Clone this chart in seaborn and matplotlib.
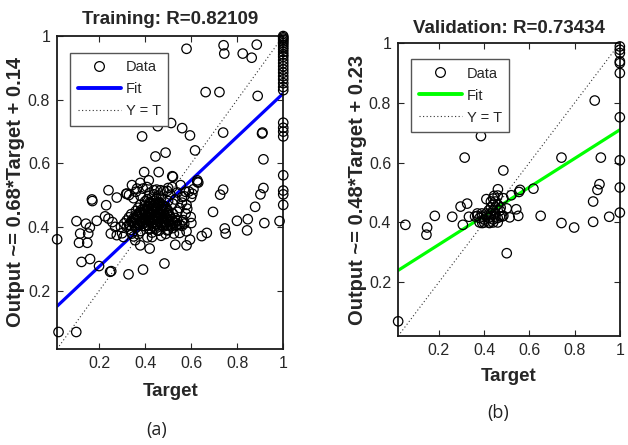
import matplotlib
matplotlib.use("Agg")
import matplotlib.pyplot as plt
import numpy as np
import pandas as pd
import seaborn as sns
from matplotlib.lines import Line2D

# ---------------- data ----------------
# Training: scattered points
train_x_out = [0.580, 0.741, 0.744, 0.824, 0.863, 0.885, 0.663, 0.723, 0.889,
               0.455, 0.513, 0.561, 0.595, 0.387, 0.739, 0.617, 0.489, 0.445,
               0.396, 0.459, 0.521, 0.416, 0.627, 0.631, 0.241, 0.169, 0.171,
               0.231, 0.277, 0.321, 0.102, 0.143, 0.160, 0.190, 0.118, 0.153,
               0.113, 0.149, 0.124, 0.161, 0.200, 0.248, 0.253, 0.328, 0.391,
               0.484, 0.531, 0.420, 0.580, 0.595, 0.646, 0.668, 0.695, 0.726,
               0.739, 0.746, 0.750, 0.799, 0.846, 0.843, 0.878, 0.901, 0.914,
               0.914, 0.908, 0.910, 0.918, 0.984, 0.018, 0.024, 0.101]
train_y_out = [0.960, 0.971, 0.945, 0.945, 0.932, 0.973, 0.824, 0.824, 0.812,
               0.717, 0.727, 0.711, 0.688, 0.685, 0.697, 0.641, 0.634, 0.622,
               0.573, 0.573, 0.558, 0.547, 0.547, 0.540, 0.516, 0.487, 0.482,
               0.469, 0.493, 0.505, 0.419, 0.411, 0.399, 0.420, 0.380, 0.380,
               0.351, 0.351, 0.291, 0.300, 0.278, 0.260, 0.262, 0.252, 0.267,
               0.286, 0.345, 0.333, 0.343, 0.361, 0.372, 0.382, 0.448, 0.502,
               0.518, 0.396, 0.380, 0.420, 0.425, 0.390, 0.464, 0.503, 0.523,
               0.613, 0.694, 0.697, 0.413, 0.419, 0.362, 0.071, 0.071]
# Training: column of points at target = 1
train_y_one = [1.000, 0.996, 0.992, 0.988, 0.983, 0.978, 0.972, 0.965, 0.958,
               0.950, 0.942, 0.935, 0.925, 0.915, 0.905, 0.895, 0.885, 0.874,
               0.864, 0.852, 0.840, 0.830, 0.728, 0.712, 0.700, 0.685, 0.563,
               0.515, 0.503, 0.470]
# Training: points around the main cluster
train_x_mid = [0.226, 0.241, 0.258, 0.270, 0.251, 0.277, 0.295, 0.306, 0.379,
               0.357, 0.343, 0.518, 0.554, 0.576, 0.605, 0.627, 0.561, 0.583,
               0.576, 0.598, 0.601, 0.566, 0.540, 0.525, 0.496, 0.452, 0.430,
               0.343, 0.365, 0.379, 0.408, 0.438, 0.467, 0.496, 0.518, 0.318]
train_y_mid = [0.434, 0.427, 0.416, 0.401, 0.380, 0.375, 0.401, 0.369, 0.343,
               0.359, 0.380, 0.560, 0.532, 0.511, 0.505, 0.542, 0.495, 0.458,
               0.443, 0.432, 0.413, 0.422, 0.406, 0.380, 0.390, 0.390, 0.369,
               0.532, 0.521, 0.539, 0.526, 0.516, 0.516, 0.514, 0.526, 0.505]
# Training: dense core
train_x_core = [0.31, 0.33, 0.35, 0.37, 0.39, 0.41, 0.43, 0.45, 0.47, 0.49, 0.51, 0.53, 0.55, 0.57,
                0.32, 0.34, 0.36, 0.38, 0.40, 0.42, 0.44, 0.46, 0.48, 0.50, 0.52, 0.54, 0.56,
                0.33, 0.35, 0.37, 0.39, 0.41, 0.43, 0.45, 0.47, 0.49, 0.51, 0.53,
                0.34, 0.36, 0.38, 0.40, 0.42, 0.44, 0.46, 0.48, 0.50, 0.52,
                0.36, 0.38, 0.40, 0.42, 0.44, 0.46, 0.48, 0.50, 0.54,
                0.37, 0.39, 0.41, 0.43, 0.45, 0.47, 0.49, 0.55,
                0.38, 0.40, 0.42, 0.44, 0.46, 0.48, 0.52, 0.58,
                0.40, 0.42, 0.44, 0.46, 0.50, 0.56,
                0.35, 0.41, 0.43, 0.45, 0.47, 0.53, 0.60,
                0.33, 0.38, 0.44, 0.46, 0.51, 0.57,
                0.36, 0.42, 0.48, 0.54, 0.59,
                0.39, 0.45, 0.50, 0.61,
                0.32, 0.36, 0.40, 0.44, 0.48, 0.52, 0.56,
                0.34, 0.38, 0.42, 0.46, 0.50, 0.58,
                0.30, 0.37, 0.43, 0.49, 0.55,
                0.35, 0.41, 0.47,
                # extra density in the centre of the blob
                0.345, 0.365, 0.385, 0.405, 0.425, 0.445, 0.465, 0.485, 0.505,
                0.355, 0.375, 0.395, 0.415, 0.435, 0.455, 0.475, 0.495, 0.515,
                0.365, 0.385, 0.405, 0.425, 0.445, 0.465, 0.485, 0.505,
                0.375, 0.395, 0.415, 0.435, 0.455, 0.475, 0.495,
                0.395, 0.415, 0.435, 0.455, 0.475, 0.495,
                0.415, 0.435, 0.455, 0.475,
                0.425, 0.445, 0.465,
                0.335, 0.355, 0.375, 0.395, 0.415, 0.435, 0.455, 0.475, 0.495, 0.515, 0.535]
train_y_core = [0.412, 0.408, 0.414, 0.409, 0.411, 0.406, 0.413, 0.410, 0.407, 0.412, 0.409, 0.414, 0.408, 0.411,
                0.421, 0.418, 0.423, 0.419, 0.422, 0.417, 0.424, 0.420, 0.418, 0.423, 0.419, 0.421, 0.417,
                0.431, 0.428, 0.433, 0.429, 0.432, 0.427, 0.434, 0.430, 0.428, 0.433, 0.429,
                0.441, 0.438, 0.443, 0.439, 0.442, 0.437, 0.444, 0.440, 0.438, 0.443,
                0.451, 0.448, 0.453, 0.449, 0.452, 0.447, 0.454, 0.450, 0.448,
                0.461, 0.458, 0.463, 0.459, 0.462, 0.457, 0.464, 0.460,
                0.471, 0.468, 0.473, 0.469, 0.472, 0.467, 0.474, 0.470,
                0.481, 0.478, 0.483, 0.479, 0.482, 0.477,
                0.491, 0.488, 0.493, 0.489, 0.492, 0.487, 0.494,
                0.501, 0.498, 0.503, 0.499, 0.502, 0.497,
                0.511, 0.508, 0.513, 0.509, 0.512,
                0.521, 0.518, 0.523, 0.519,
                0.401, 0.398, 0.403, 0.399, 0.402, 0.397, 0.404,
                0.391, 0.388, 0.393, 0.389, 0.392, 0.387,
                0.381, 0.378, 0.383, 0.379, 0.382,
                0.371, 0.368, 0.373,
                0.416, 0.414, 0.417, 0.415, 0.418, 0.416, 0.414, 0.417, 0.415,
                0.426, 0.427, 0.425, 0.428, 0.426, 0.427, 0.425, 0.428, 0.426,
                0.436, 0.437, 0.435, 0.438, 0.436, 0.437, 0.435, 0.438,
                0.446, 0.447, 0.445, 0.448, 0.446, 0.447, 0.445,
                0.456, 0.457, 0.455, 0.458, 0.456, 0.457,
                0.466, 0.467, 0.465, 0.468,
                0.476, 0.477, 0.475,
                0.405, 0.404, 0.406, 0.404, 0.405, 0.403, 0.406, 0.404, 0.405, 0.403, 0.406]

# Validation
val_x_out = [0.020, 0.052, 0.148, 0.145, 0.182, 0.259, 0.296, 0.325, 0.306, 0.333,
             0.314, 0.386, 0.485, 0.500, 0.410, 0.461, 0.444, 0.485, 0.473, 0.500,
             0.520, 0.542, 0.554, 0.559, 0.513, 0.551, 0.485, 0.392, 0.424, 0.618,
             0.650, 0.742, 0.742, 0.798, 0.889, 0.916, 0.910, 0.901, 0.882, 0.882,
             0.953]
val_y_out = [0.069, 0.392, 0.383, 0.359, 0.422, 0.419, 0.453, 0.463, 0.392, 0.419,
             0.617, 0.689, 0.574, 0.297, 0.478, 0.511, 0.489, 0.481, 0.450, 0.447,
             0.491, 0.444, 0.502, 0.509, 0.417, 0.422, 0.422, 0.398, 0.398, 0.513,
             0.422, 0.617, 0.398, 0.383, 0.808, 0.617, 0.528, 0.509, 0.470, 0.402,
             0.419]
val_y_one = [0.989, 0.978, 0.967, 0.939, 0.933, 0.900, 0.752, 0.608, 0.517, 0.433]
val_x_core = [0.36, 0.37, 0.38, 0.39, 0.40, 0.41, 0.42, 0.43, 0.44, 0.45, 0.46, 0.47,
              0.37, 0.39, 0.41, 0.43, 0.45, 0.42, 0.44, 0.43, 0.44, 0.45, 0.43, 0.45,
              0.46, 0.40, 0.42, 0.44, 0.46, 0.38, 0.48, 0.47, 0.44, 0.46]
val_y_core = [0.420, 0.422, 0.415, 0.420, 0.410, 0.420, 0.415, 0.420, 0.410, 0.420, 0.415, 0.420,
              0.430, 0.430, 0.430, 0.430, 0.430, 0.440, 0.440, 0.450, 0.460, 0.450, 0.470, 0.470,
              0.460, 0.400, 0.400, 0.400, 0.400, 0.400, 0.420, 0.440, 0.480, 0.490]

# Fit coefficients (from the axis labels)
train_slope, train_intercept = 0.68, 0.14
val_slope, val_intercept = 0.48, 0.23

titles = ["Training: R=0.82109", "Validation: R=0.73434"]
ylabels = ["Output ~= 0.68*Target + 0.14", "Output ~= 0.48*Target + 0.23"]
panel_tags = ["(a)", "(b)"]
ticks = [0.2, 0.4, 0.6, 0.8, 1]
tick_labels = ["0.2", "0.4", "0.6", "0.8", "1"]

# ---------------- build tables ----------------
train_df = pd.DataFrame({
    "Target": train_x_out + [1.0] * len(train_y_one) + train_x_mid + train_x_core,
    "Output": train_y_out + train_y_one + train_y_mid + train_y_core,
})
val_df = pd.DataFrame({
    "Target": val_x_out + [1.0] * len(val_y_one) + val_x_core,
    "Output": val_y_out + val_y_one + val_y_core,
})

# ---------------- style ----------------
sns.set_theme(style="white")
narrow = ["Liberation Sans Narrow", "Liberation Sans", "DejaVu Sans"]
plt.rcParams["font.family"] = narrow

fig = plt.figure(figsize=(6.28, 4.45), dpi=100)
axes_pos = [[0.091, 0.216, 0.360, 0.703], [0.634, 0.245, 0.353, 0.658]]
fit_colors = ["#0000ff", "#00ff00"]
dfs = [train_df, val_df]
fits = [(train_slope, train_intercept), (val_slope, val_intercept)]
legend_anchor = [(0.058, 0.946), (0.059, 0.945)]
title_pad = [9, 7]
tag_pos = [(157 / 628, 1 - 430 / 445), (498 / 628, 1 - 413 / 445)]

for i in range(2):
    ax = fig.add_axes(axes_pos[i])
    df = dfs[i]
    lo = min(df["Target"].min(), df["Output"].min())
    hi = max(df["Target"].max(), df["Output"].max())
    xs = np.array([lo, hi])
    slope, intercept = fits[i]

    # Y = T
    sns.lineplot(x=xs, y=xs, ax=ax, color="#333333", linestyle=(0, (1, 2.2)),
                 linewidth=0.8, zorder=1)
    # Fit
    sns.lineplot(x=xs, y=slope * xs + intercept, ax=ax, color=fit_colors[i],
                 linewidth=2.3, zorder=2)
    # Data
    sns.scatterplot(data=df, x="Target", y="Output", ax=ax, marker="o", s=46,
                    facecolor="none", edgecolor="black", linewidth=0.9,
                    zorder=3, legend=False, clip_on=False)

    ax.set_xlim(lo, hi)
    ax.set_ylim(lo, hi)
    ax.set_xticks(ticks)
    ax.set_xticklabels(tick_labels)
    ax.set_yticks(ticks)
    ax.set_yticklabels(tick_labels)
    ax.tick_params(direction="in", length=4, width=0.8, top=True, right=True,
                   labelsize=11.5, labelcolor="#262626", pad=5,
                   bottom=True, left=True)
    for sp in ax.spines.values():
        sp.set_color("#1a1a1a")
        sp.set_linewidth(1.3)

    ax.set_title(titles[i], fontsize=13.5, fontweight="bold", pad=title_pad[i])
    ax.set_xlabel("Target", fontsize=13.5, fontweight="bold")
    ax.xaxis.set_label_coords(0.5, -0.109)
    ax.set_ylabel(ylabels[i], fontsize=14.5, fontweight="bold",
                  family=["Liberation Sans", "DejaVu Sans"], color="#262626")
    ax.yaxis.set_label_coords(-0.142, 0.5)

    handles = [
        Line2D([], [], marker="o", linestyle="none", markerfacecolor="none",
               markeredgecolor="black", markersize=7, markeredgewidth=0.9),
        Line2D([], [], color=fit_colors[i], linewidth=2.8),
        Line2D([], [], color="#333333", linestyle=(0, (1, 2.2)), linewidth=0.8),
    ]
    leg = ax.legend(handles, ["Data", "Fit", "Y = T"], loc="upper left",
                    bbox_to_anchor=legend_anchor[i], borderaxespad=0,
                    fontsize=10.5, frameon=True, fancybox=False,
                    handlelength=3.0, handletextpad=0.3, borderpad=0.5,
                    labelspacing=0.55)
    leg.get_frame().set_edgecolor("#555555")
    leg.get_frame().set_linewidth(1.0)
    leg.get_frame().set_alpha(1)

    fig.text(tag_pos[i][0], tag_pos[i][1], panel_tags[i], ha="center", va="center",
             fontsize=13, family=["Open Sans", "DejaVu Sans"], color="#222222")

fig.savefig("out.png", dpi=100)
